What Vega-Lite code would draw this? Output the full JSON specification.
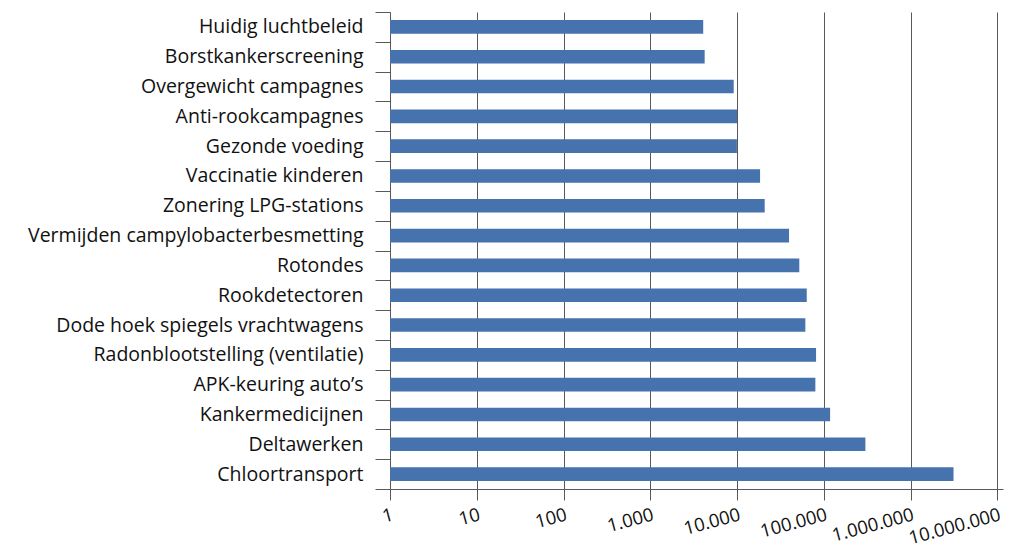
{
  "$schema": "https://vega.github.io/schema/vega-lite/v6.json",
  "autosize": "none",
  "width": 613,
  "height": 477,
  "padding": {"left": 390, "top": 12, "right": 21, "bottom": 62},
  "background": "white",
  "data": {
    "values": [
      {"maatregel": "Huidig luchtbeleid", "waarde": 4070},
      {"maatregel": "Borstkankerscreening", "waarde": 4230},
      {"maatregel": "Overgewicht campagnes", "waarde": 9140},
      {"maatregel": "Anti-rookcampagnes", "waarde": 10000},
      {"maatregel": "Gezonde voeding", "waarde": 9950},
      {"maatregel": "Vaccinatie kinderen", "waarde": 18400},
      {"maatregel": "Zonering LPG-stations", "waarde": 20800},
      {"maatregel": "Vermijden campylobacterbesmetting", "waarde": 39700},
      {"maatregel": "Rotondes", "waarde": 52100},
      {"maatregel": "Rookdetectoren", "waarde": 63500},
      {"maatregel": "Dode hoek spiegels vrachtwagens", "waarde": 61200},
      {"maatregel": "Radonblootstelling (ventilatie)", "waarde": 81300},
      {"maatregel": "APK-keuring auto’s", "waarde": 79800},
      {"maatregel": "Kankermedicijnen", "waarde": 118000},
      {"maatregel": "Deltawerken", "waarde": 301000},
      {"maatregel": "Chloortransport", "waarde": 3120000}
    ]
  },
  "mark": {"type": "bar", "color": "#4672AE", "height": {"band": 0.456}},
  "encoding": {
    "y": {
      "field": "maatregel",
      "type": "nominal",
      "sort": null,
      "scale": {"paddingInner": 0, "paddingOuter": 0},
      "axis": {
        "title": null,
        "tickBand": "extent",
        "tickSize": 15,
        "tickColor": "#595959",
        "domainColor": "#595959",
        "labelFont": "Open Sans",
        "labelFontSize": 19.5,
        "labelColor": "#111111",
        "labelPadding": 12,
        "labelLimit": 400,
        "grid": false
      }
    },
    "x": {
      "field": "waarde",
      "type": "quantitative",
      "scale": {"type": "log", "domain": [1, 11600000], "nice": false},
      "axis": {
        "title": null,
        "values": [1, 10, 100, 1000, 10000, 100000, 1000000, 10000000],
        "labelExpr": "replace(replace(format(datum.value, ','), ',', '.'), ',', '.')",
        "grid": true,
        "gridColor": "#595959",
        "gridOpacity": 1,
        "gridWidth": 1,
        "tickSize": 11,
        "tickColor": "#595959",
        "domainColor": "#595959",
        "labelAngle": -15,
        "labelAlign": "right",
        "labelBaseline": "top",
        "labelFont": "Open Sans",
        "labelFontSize": 18.5,
        "labelColor": "#111111",
        "labelPadding": 5,
        "labelFlush": false,
        "labelOverlap": false,
        "labelBound": false
      }
    },
    "x2": {"datum": 1}
  },
  "config": {"view": {"stroke": null}}
}
